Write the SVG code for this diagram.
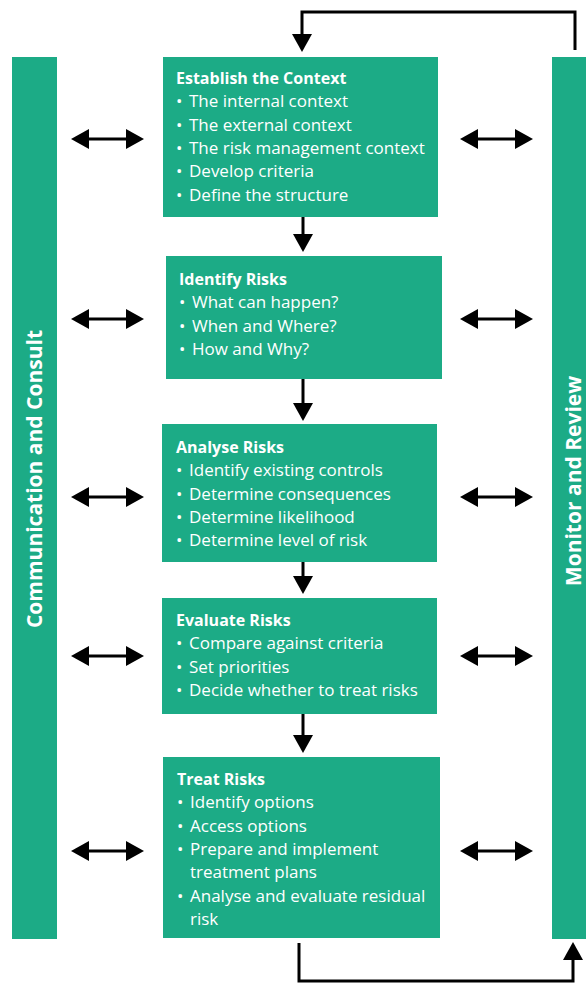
<svg xmlns="http://www.w3.org/2000/svg" width="586" height="983" viewBox="0 0 586 983">
<style>
.box{fill:#1cab86}
.t{font-family:"Open Sans","Liberation Sans",sans-serif;font-size:17px;fill:#ffffff}
.h{font-size:16px;font-weight:bold}
.bar{font-family:"Open Sans","Liberation Sans",sans-serif;font-size:21px;font-weight:bold;fill:#ffffff}
.ln{stroke:#000;stroke-width:3;fill:none}
</style>
<defs>
<marker id="ah" viewBox="0 0 18 20" markerWidth="18" markerHeight="20" refX="8" refY="10" orient="auto-start-reverse" markerUnits="userSpaceOnUse">
<path d="M0,0 L18,10 L0,20 Z" fill="#000"/>
</marker>
</defs>
<g id="communicate">
<rect class="box" x="12" y="57" width="45" height="882"/>
<text class="bar" transform="translate(42,479) rotate(-90)" text-anchor="middle">Communication and Consult</text>
</g>
<g id="monitor">
<rect class="box" x="552" y="57" width="34" height="882"/>
<text class="bar" transform="translate(581,481) rotate(-90)" text-anchor="middle">Monitor and Review</text>
</g>
<g id="context">
<rect class="box" x="163" y="57" width="275" height="160"/>
<text class="t h" x="176" y="84">Establish the Context</text>
<text class="t" x="176" y="107">•</text><text class="t" x="189" y="107">The internal context</text>
<text class="t" x="176" y="131">•</text><text class="t" x="189" y="131">The external context</text>
<text class="t" x="176" y="154">•</text><text class="t" x="189" y="154">The risk management context</text>
<text class="t" x="176" y="177">•</text><text class="t" x="189" y="177">Develop criteria</text>
<text class="t" x="176" y="201">•</text><text class="t" x="189" y="201">Define the structure</text>
</g>
<g id="identify">
<rect class="box" x="166" y="256" width="276" height="123"/>
<text class="t h" x="179" y="285">Identify Risks</text>
<text class="t" x="179" y="308">•</text><text class="t" x="192" y="308">What can happen?</text>
<text class="t" x="179" y="332">•</text><text class="t" x="192" y="332">When and Where?</text>
<text class="t" x="179" y="355">•</text><text class="t" x="192" y="355">How and Why?</text>
</g>
<g id="analyse">
<rect class="box" x="162" y="424" width="275" height="138"/>
<text class="t h" x="176" y="453">Analyse Risks</text>
<text class="t" x="176" y="476">•</text><text class="t" x="189" y="476">Identify existing controls</text>
<text class="t" x="176" y="500">•</text><text class="t" x="189" y="500">Determine consequences</text>
<text class="t" x="176" y="523">•</text><text class="t" x="189" y="523">Determine likelihood</text>
<text class="t" x="176" y="546">•</text><text class="t" x="189" y="546">Determine level of risk</text>
</g>
<g id="evaluate">
<rect class="box" x="162" y="598" width="275" height="116"/>
<text class="t h" x="176" y="626">Evaluate Risks</text>
<text class="t" x="176" y="649">•</text><text class="t" x="189" y="649">Compare against criteria</text>
<text class="t" x="176" y="673">•</text><text class="t" x="189" y="673">Set priorities</text>
<text class="t" x="176" y="696">•</text><text class="t" x="189" y="696">Decide whether to treat risks</text>
</g>
<g id="treat">
<rect class="box" x="163" y="757" width="277" height="181"/>
<text class="t h" x="177" y="785">Treat Risks</text>
<text class="t" x="177" y="808">•</text><text class="t" x="190" y="808">Identify options</text>
<text class="t" x="177" y="832">•</text><text class="t" x="190" y="832">Access options</text>
<text class="t" x="177" y="855">•</text><text class="t" x="190" y="855">Prepare and implement</text>
<text class="t" x="190" y="878">treatment plans</text>
<text class="t" x="177" y="902">•</text><text class="t" x="190" y="902">Analyse and evaluate residual</text>
<text class="t" x="190" y="925">risk</text>
</g>
<g id="connectors">
<line class="ln" x1="303" y1="217" x2="303" y2="242" marker-end="url(#ah)"/>
<line class="ln" x1="303" y1="379" x2="303" y2="411" marker-end="url(#ah)"/>
<line class="ln" x1="303" y1="562" x2="303" y2="584" marker-end="url(#ah)"/>
<line class="ln" x1="303" y1="714" x2="303" y2="743" marker-end="url(#ah)"/>
<polyline class="ln" points="575,50 575,12 302,12 302,42" marker-end="url(#ah)"/>
<polyline class="ln" points="299,943 299,981 573,981 573,952" marker-end="url(#ah)"/>
<line class="ln" x1="81" y1="139" x2="134" y2="139" marker-start="url(#ah)" marker-end="url(#ah)"/>
<line class="ln" x1="81" y1="319" x2="134" y2="319" marker-start="url(#ah)" marker-end="url(#ah)"/>
<line class="ln" x1="81" y1="497" x2="134" y2="497" marker-start="url(#ah)" marker-end="url(#ah)"/>
<line class="ln" x1="81" y1="656" x2="134" y2="656" marker-start="url(#ah)" marker-end="url(#ah)"/>
<line class="ln" x1="81" y1="851" x2="134" y2="851" marker-start="url(#ah)" marker-end="url(#ah)"/>
<line class="ln" x1="470" y1="139" x2="523" y2="139" marker-start="url(#ah)" marker-end="url(#ah)"/>
<line class="ln" x1="470" y1="319" x2="523" y2="319" marker-start="url(#ah)" marker-end="url(#ah)"/>
<line class="ln" x1="470" y1="497" x2="523" y2="497" marker-start="url(#ah)" marker-end="url(#ah)"/>
<line class="ln" x1="470" y1="656" x2="523" y2="656" marker-start="url(#ah)" marker-end="url(#ah)"/>
<line class="ln" x1="470" y1="851" x2="523" y2="851" marker-start="url(#ah)" marker-end="url(#ah)"/>
</g>
</svg>
